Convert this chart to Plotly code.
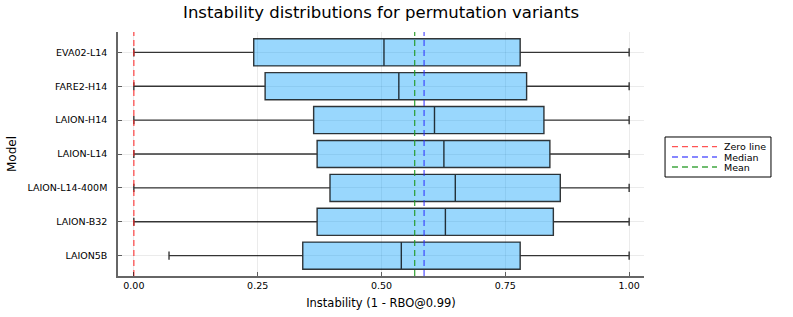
import plotly.graph_objects as go

models = ["LAION5B", "LAION-B32", "LAION-L14-400M", "LAION-L14", "LAION-H14", "FARE2-H14", "EVA02-L14"]
positions = [0, 1, 2, 3, 4, 5, 6]
q1 = [0.341, 0.370, 0.396, 0.370, 0.363, 0.265, 0.242]
median = [0.540, 0.629, 0.649, 0.626, 0.607, 0.535, 0.505]
q3 = [0.780, 0.847, 0.861, 0.840, 0.828, 0.793, 0.780]
lower = [0.071, 0.0, 0.0, 0.0, 0.0, 0.0, 0.0]
upper = [1.0, 1.0, 1.0, 1.0, 1.0, 1.0, 1.0]
ref_names = ["Zero line", "Median", "Mean"]
ref_values = [0.0, 0.586, 0.567]
ref_colors = ["rgba(255,40,40,0.8)", "rgba(40,40,255,0.75)", "rgba(30,150,30,0.85)"]
x_ticks = [0.0, 0.25, 0.5, 0.75, 1.0]
x_tick_labels = ["0.00", "0.25", "0.50", "0.75", "1.00"]

FONT = "DejaVu Sans"
y_lo, y_hi = -0.6, 6.6
DASH = "6px,4px"

fig = go.Figure()
fig.add_trace(go.Box(
    y=positions, q1=q1, median=median, q3=q3,
    lowerfence=lower, upperfence=upper,
    orientation="h", boxpoints=False, width=0.8, whiskerwidth=0.3,
    fillcolor="rgba(0,154,250,0.4)",
    line=dict(color="rgba(0,0,0,0.78)", width=1.4),
    showlegend=False, hoverinfo="skip",
))
for name, xv, col in zip(ref_names, ref_values, ref_colors):
    fig.add_trace(go.Scatter(
        x=[xv, xv], y=[y_lo, y_hi], mode="lines", name=name,
        line=dict(color=col, width=1.3, dash=DASH), showlegend=False,
    ))

# compact legend box (Plots.jl style)
shapes = [dict(type="rect", xref="paper", yref="paper",
               x0=1.040, x1=1.2414, y0=0.4057, y1=0.5697,
               line=dict(color="black", width=1), fillcolor="white")]
annotations = []
row_y = [0.530, 0.4877, 0.4467]
for name, col, yy in zip(ref_names, ref_colors, row_y):
    shapes.append(dict(type="line", xref="paper", yref="paper",
                       x0=1.0532, x1=1.1388, y0=yy, y1=yy,
                       line=dict(color=col, width=1.3, dash=DASH)))
    annotations.append(dict(xref="paper", yref="paper", x=1.1483, y=yy,
                            text=name, showarrow=False, xanchor="left",
                            yanchor="middle", font=dict(size=9.5, family=FONT)))

fig.update_layout(
    width=793, height=317,
    margin=dict(l=118, r=149, t=32, b=41, autoexpand=False),
    paper_bgcolor="white", plot_bgcolor="white",
    font=dict(family=FONT, color="black", size=9.5),
    title=dict(text="Instability distributions for permutation variants",
               x=0.5, xref="paper", y=0.962, yanchor="middle",
               font=dict(size=16.5, family=FONT)),
    showlegend=False,
    shapes=shapes, annotations=annotations,
)
fig.update_xaxes(
    range=[-0.032, 1.030], tickvals=x_ticks, ticktext=x_tick_labels,
    showgrid=True, gridcolor="rgba(0,0,0,0.08)", gridwidth=1,
    showline=True, linecolor="rgba(0,0,0,0.6)", linewidth=1.5,
    ticks="inside", ticklen=4, tickcolor="rgba(0,0,0,0.6)",
    zeroline=False, tickfont=dict(size=9.5), automargin=False,
    title=dict(text="Instability (1 - RBO@0.99)", font=dict(size=11.5), standoff=9),
)
fig.update_yaxes(
    range=[y_lo, y_hi], tickvals=positions, ticktext=models,
    showgrid=True, gridcolor="rgba(0,0,0,0.08)", gridwidth=1,
    showline=True, linecolor="rgba(0,0,0,0.6)", linewidth=1.5,
    ticks="inside", ticklen=4, tickcolor="rgba(0,0,0,0.6)",
    zeroline=False, tickfont=dict(size=9.5), ticklabelstandoff=7,
    automargin=False,
    title=dict(text="Model", font=dict(size=12), standoff=8),
)

fig.write_html("out.html", config={"displayModeBar": False},
               post_script="document.body.style.margin='0';document.body.style.overflow='hidden';")
